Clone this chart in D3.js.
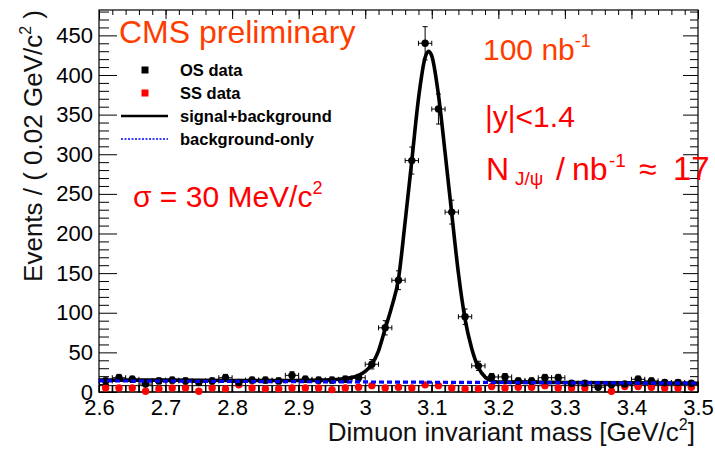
<!DOCTYPE html>
<html>
<head>
<meta charset="utf-8">
<script src="https://cdn.jsdelivr.net/npm/d3@7"></script>
<style>
  body { margin: 0; background: #fff; }
  svg { display: block; font-family: "Liberation Sans", Arial, Helvetica, sans-serif; }
</style>
</head>
<body>
<svg id="chart" width="715" height="450"></svg>
<script>
// bin centres (0.02 GeV/c^2 bins)
const massBins = [2.61, 2.63, 2.65, 2.67, 2.69, 2.71, 2.73, 2.75, 2.77, 2.79,
                  2.81, 2.83, 2.85, 2.87, 2.89, 2.91, 2.93, 2.95, 2.97, 2.99,
                  3.01, 3.03, 3.05, 3.07, 3.09, 3.11, 3.13, 3.15, 3.17, 3.19,
                  3.21, 3.23, 3.25, 3.27, 3.29, 3.31, 3.33, 3.35, 3.37, 3.39,
                  3.41, 3.43, 3.45, 3.47, 3.49];
const binWidth = 0.02;

// opposite-sign dimuon counts
const osCounts = [14, 18, 16, 10, 14, 15, 14, 12, 14, 18,
                  12, 15, 15, 14, 21, 16, 15, 15, 16, 18,
                  35, 81, 141, 292, 440, 357, 227, 95, 33, 19,
                  19, 14, 14, 18, 18, 11, 11, 6, 9, 10,
                  16, 14, 12, 12, 11];

// same-sign dimuon counts
const ssCounts = [5, 5, 5, 1, 4, 5, 5, 1, 5, 4,
                  9, 5, 4, 4, 5, 5, 5, 3, 5, 6,
                  8, 5, 6, 5, 9, 8, 5, 4, 4, 7,
                  5, 6, 6, 8, 5, 5, 5, 8, 1, 7,
                  7, 6, 5, 5, 6];
const ssBoxTop = 8;

// fitted signal+background curve
const fitMass = [2.60, 2.70, 2.80, 2.90, 2.94, 2.97, 2.99, 3.00, 3.01, 3.02,
                 3.03, 3.04, 3.05, 3.06, 3.07, 3.08, 3.09, 3.095, 3.10, 3.11,
                 3.12, 3.13, 3.14, 3.15, 3.16, 3.17, 3.18, 3.19, 3.20, 3.30,
                 3.40, 3.50];
const fitValue = [15, 15, 14.5, 14.5, 15, 17, 21, 26, 35, 52,
                  80, 108, 143, 215, 292, 370, 422, 430, 424, 375,
                  302, 225, 150, 92, 55, 31, 19, 14, 12.5, 12,
                  11.5, 11];

// background-only component
const bgMass = [2.60, 3.50];
const bgValue = [14, 11];

const yMajor = [0, 50, 100, 150, 200, 250, 300, 350, 400, 450];
const xMajor = [2.6, 2.7, 2.8, 2.9, 3.0, 3.1, 3.2, 3.3, 3.4, 3.5];

const svg = d3.select("#chart");
const x = d3.scaleLinear().domain([2.6, 3.5]).range([99, 698]);
const y = d3.scaleLinear().domain([0, 482]).range([392, 10]);

const osData = massBins.map((m, i) => ({m: m, v: osCounts[i]}));
const ssData = massBins.map((m, i) => ({m: m, v: ssCounts[i]}));

// boxes along the bottom
svg.append("g").selectAll("rect")
    .data(massBins)
    .enter()
    .append("rect")
    .attr("x", d => x(d - binWidth / 2))
    .attr("y", y(ssBoxTop))
    .attr("width", d => x(d + binWidth / 2) - x(d - binWidth / 2))
    .attr("height", y(0) - y(ssBoxTop))
    .attr("fill", "none")
    .attr("stroke", "#000")
    .attr("stroke-width", 1);

// axes: major + minor ticks on all four sides, pointing inward
const yMinor = d3.range(0, 481, 10).filter(v => v % 50 !== 0);
const xMinor = d3.range(0, 46).map(i => 2.6 + i * 0.02);

svg.append("g")
    .attr("transform", `translate(${x(2.6)},0)`)
    .call(d3.axisLeft(y).tickValues(yMajor).tickSize(-18).tickPadding(6).tickFormat(d3.format("d")))
    .call(g => g.select(".domain").remove())
    .call(g => g.selectAll("text").attr("font-size", 22).attr("fill", "#000").attr("font-family", null));
svg.append("g")
    .attr("transform", `translate(${x(2.6)},0)`)
    .call(d3.axisLeft(y).tickValues(yMinor).tickSize(-10).tickFormat(""))
    .call(g => g.select(".domain").remove());
svg.append("g")
    .attr("transform", `translate(${x(3.5)},0)`)
    .call(d3.axisRight(y).tickValues(yMajor).tickSize(-15).tickFormat(""))
    .call(g => g.select(".domain").remove());
svg.append("g")
    .attr("transform", `translate(${x(3.5)},0)`)
    .call(d3.axisRight(y).tickValues(yMinor).tickSize(-8).tickFormat(""))
    .call(g => g.select(".domain").remove());

svg.append("g")
    .attr("transform", `translate(0,${y(0)})`)
    .call(d3.axisBottom(x).tickValues(xMajor).tickSize(-10).tickPadding(7).tickFormat(d3.format("")))
    .call(g => g.select(".domain").remove())
    .call(g => g.selectAll("text").attr("font-size", 22).attr("fill", "#000").attr("font-family", null));
svg.append("g")
    .attr("transform", `translate(0,${y(0)})`)
    .call(d3.axisBottom(x).tickValues(xMinor).tickSize(-6).tickFormat(""))
    .call(g => g.select(".domain").remove());
svg.append("g")
    .attr("transform", `translate(0,${y(482)})`)
    .call(d3.axisTop(x).tickValues(xMajor).tickSize(-9).tickFormat(""))
    .call(g => g.select(".domain").remove());
svg.append("g")
    .attr("transform", `translate(0,${y(482)})`)
    .call(d3.axisTop(x).tickValues(xMinor).tickSize(-5).tickFormat(""))
    .call(g => g.select(".domain").remove());

// frame
svg.append("rect")
    .attr("x", x(2.6))
    .attr("y", y(482))
    .attr("width", x(3.5) - x(2.6))
    .attr("height", y(0) - y(482))
    .attr("fill", "none")
    .attr("stroke", "#000")
    .attr("stroke-width", 1.2);

// data points with error bars
function drawPoints(data, color, withErrors) {
    const g = svg.append("g");
    const pts = g.selectAll("g").data(data).enter().append("g");
    if (withErrors) {
        pts.append("line")
            .attr("x1", d => x(d.m - binWidth / 2)).attr("x2", d => x(d.m + binWidth / 2))
            .attr("y1", d => y(d.v)).attr("y2", d => y(d.v))
            .attr("stroke", color).attr("stroke-width", 1);
        pts.append("line")
            .attr("x1", d => x(d.m)).attr("x2", d => x(d.m))
            .attr("y1", d => y(d.v + Math.sqrt(d.v))).attr("y2", d => y(Math.max(0, d.v - Math.sqrt(d.v))))
            .attr("stroke", color).attr("stroke-width", 1);
        // end caps
        pts.each(function(d) {
            const s = d3.select(this);
            [d.m - binWidth / 2, d.m + binWidth / 2].forEach(e => {
                s.append("line")
                    .attr("x1", x(e)).attr("x2", x(e))
                    .attr("y1", y(d.v) - 2.5).attr("y2", y(d.v) + 2.5)
                    .attr("stroke", color).attr("stroke-width", 1);
            });
            [d.v + Math.sqrt(d.v), Math.max(0, d.v - Math.sqrt(d.v))].forEach(e => {
                s.append("line")
                    .attr("x1", x(d.m) - 2.5).attr("x2", x(d.m) + 2.5)
                    .attr("y1", y(e)).attr("y2", y(e))
                    .attr("stroke", color).attr("stroke-width", 1);
            });
        });
    }
    pts.append("circle")
        .attr("cx", d => x(d.m))
        .attr("cy", d => y(d.v))
        .attr("r", 3.7)
        .attr("fill", color);
}
drawPoints(ssData, "#ff0000", false);
drawPoints(osData, "#000", true);

// signal + background fit
const line = d3.line().x(d => x(d[0])).y(d => y(d[1]));
svg.append("path")
    .datum(fitMass.map((m, i) => [m, fitValue[i]]))
    .attr("d", line.curve(d3.curveMonotoneX))
    .attr("fill", "none")
    .attr("stroke", "#000")
    .attr("stroke-width", 3.6)
    .attr("stroke-linejoin", "round");

// background-only, on top
svg.append("path")
    .datum(bgMass.map((m, i) => [m, bgValue[i]]))
    .attr("d", line.curve(d3.curveLinear))
    .attr("fill", "none")
    .attr("stroke", "#0000ff")
    .attr("stroke-width", 3.2)
    .attr("stroke-dasharray", "5,3");

// axis titles
svg.append("text")
    .attr("x", 695).attr("y", 441)
    .attr("text-anchor", "end")
    .attr("font-size", 26)
    .attr("fill", "#111")
    .call(t => {
        t.append("tspan").text("Dimuon invariant mass [GeV/c");
        t.append("tspan").attr("font-size", 16).attr("dy", -11).text("2");
        t.append("tspan").attr("dy", 11).text("]");
    });

svg.append("text")
    .attr("transform", "translate(42,10) rotate(-90)")
    .attr("text-anchor", "end")
    .attr("font-size", 26)
    .attr("fill", "#111")
    .call(t => {
        t.append("tspan").text("Events / ( 0.02 GeV/c");
        t.append("tspan").attr("font-size", 16).attr("dy", -11).text("2");
        t.append("tspan").attr("dy", 11).text(" )");
    });

// legend
const legend = svg.append("g").attr("font-size", 16.5).attr("font-weight", "bold").attr("fill", "#000");
legend.append("rect").attr("x", 141.5).attr("y", 66.5).attr("width", 7).attr("height", 7).attr("fill", "#000");
legend.append("text").attr("x", 180).attr("y", 76).text("OS data");
legend.append("rect").attr("x", 141.5).attr("y", 89.5).attr("width", 7).attr("height", 7).attr("fill", "#ff0000");
legend.append("text").attr("x", 180).attr("y", 99).text("SS data");
legend.append("line").attr("x1", 121).attr("x2", 168).attr("y1", 116).attr("y2", 116)
    .attr("stroke", "#000").attr("stroke-width", 2.5);
legend.append("text").attr("x", 180).attr("y", 122).text("signal+background");
legend.append("line").attr("x1", 121).attr("x2", 168).attr("y1", 139).attr("y2", 139)
    .attr("stroke", "#0000ff").attr("stroke-width", 1.5).attr("stroke-dasharray", "2,1.5");
legend.append("text").attr("x", 180).attr("y", 145).text("background-only");

// annotations
svg.append("text").attr("x", 119).attr("y", 43).attr("font-size", 32).attr("fill", "#ff3c00")
    .text("CMS preliminary");

svg.append("text").attr("x", 483).attr("y", 60).attr("font-size", 30).attr("fill", "#ff3c00")
    .call(t => {
        t.append("tspan").text("100 nb");
        t.append("tspan").attr("font-size", 18).attr("dy", -13).text("-1");
    });

svg.append("text").attr("x", 485).attr("y", 127).attr("font-size", 30).attr("fill", "#ff0000")
    .text("|y|<1.4");

svg.append("text").attr("y", 180).attr("font-size", 32).attr("fill", "#ff0000")
    .call(t => {
        t.append("tspan").attr("x", 486).text("N");
        t.append("tspan").attr("x", 515).attr("font-size", 19).attr("dy", 5).text("J/\u03c8");
        t.append("tspan").attr("x", 556).attr("dy", -5).text("/");
        t.append("tspan").attr("x", 572).text("nb");
        t.append("tspan").attr("x", 609).attr("font-size", 19).attr("dy", -13).text("-1");
        t.append("tspan").attr("x", 639).attr("dy", 13).text("\u2248");
        t.append("tspan").attr("x", 673).attr("font-size", 33).text("17");
    });

svg.append("text").attr("x", 133).attr("y", 207).attr("font-size", 30).attr("fill", "#ff0000")
    .call(t => {
        t.append("tspan").text("\u03c3 = 30 MeV/c");
        t.append("tspan").attr("font-size", 18).attr("dy", -13).text("2");
    });
</script>
</body>
</html>
